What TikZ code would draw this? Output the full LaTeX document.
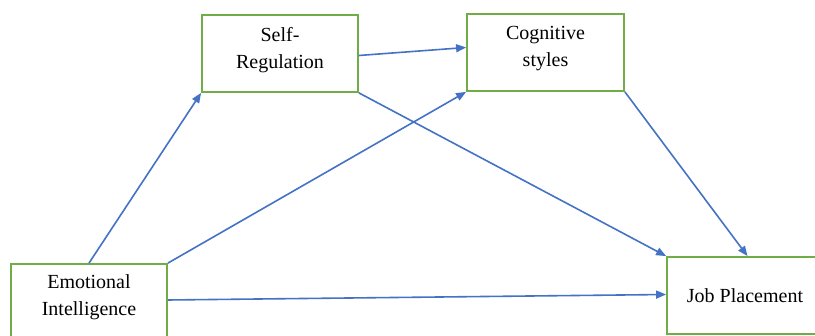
\documentclass[tikz,border=0pt]{standalone}
\usepackage{fontspec}
\setmainfont{Liberation Serif}
\usetikzlibrary{arrows.meta}
\definecolor{boxgreen}{HTML}{70AD47}
\definecolor{arrowblue}{HTML}{4472C4}
\tikzset{
  box/.style={draw=boxgreen, line width=1.8pt, fill=white, inner sep=0pt},
  lbl/.style={font=\fontsize{20}{27}\selectfont, align=center, inner sep=0pt},
  conn/.style={draw=arrowblue, line width=1.6pt, -{Triangle[length=10pt,width=8pt]}}
}
\begin{document}
\begin{tikzpicture}[x=1pt,y=-1pt]
\useasboundingbox (0,0) rectangle (815,336);
\clip (0,0) rectangle (815,336);
\fill[white] (0,0) rectangle (815,336);
\node[box, minimum width=156pt, minimum height=80pt] (ei) at (89,304) {};
\node[box, minimum width=156pt, minimum height=77pt] (sr) at (280,53.5) {};
\node[box, minimum width=157pt, minimum height=77pt] (cs) at (545.5,52.5) {};
\node[box, minimum width=155pt, minimum height=77pt] (jp) at (744.5,295.5) {};
\node[lbl] (eit) at (89,297) {Emotional\\Intelligence};
\node[lbl] (srt) at (280,50) {Self-\\Regulation};
\node[lbl] (cst) at (545.5,49) {Cognitive\\styles};
\node[lbl] (jpt) at (745,296) {Job Placement};
\draw[conn] (ei.north) -- (sr.south west);
\draw[conn] (ei.north east) -- (cs.south west);
\draw[conn] ([yshift=4pt]ei.east) -- ([yshift=1pt]jp.west);
\draw[conn] ([yshift=-2pt]sr.east) -- ([yshift=5pt]cs.west);
\draw[conn] (sr.south east) -- (jp.north west);
\draw[conn] (cs.south east) -- ([xshift=3pt]jp.north);
\end{tikzpicture}
\end{document}
